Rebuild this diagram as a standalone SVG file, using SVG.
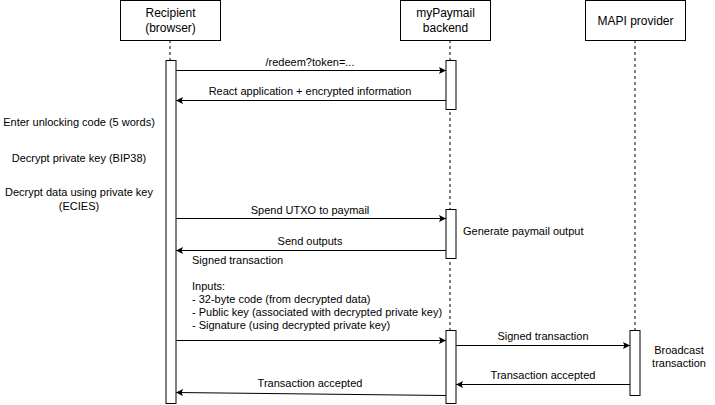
<svg xmlns="http://www.w3.org/2000/svg" width="715" height="405" viewBox="0 0 715 405">
<defs>
<marker id="arr" viewBox="0 0 10 10" refX="10" refY="5" markerWidth="7" markerHeight="7" markerUnits="userSpaceOnUse" orient="auto">
<path d="M0,0 L10,5 L0,10 L2,5 Z" fill="#000"/>
</marker>
<style>
text{font-family:"Liberation Sans",Arial,sans-serif;font-size:11px;fill:#000}
.h{font-size:12px}
.box{fill:#fff;stroke:#000;stroke-width:1}
.life{stroke:#000;stroke-dasharray:3,3;fill:none}
.msg{stroke:#000;fill:none;marker-end:url(#arr)}
.c{text-anchor:middle}
</style>
</defs>
<rect width="715" height="405" fill="#fff"/>
<g id="lifelines">
<line class="life" x1="170" y1="40" x2="170" y2="61"/>
<line class="life" x1="450" y1="40" x2="450" y2="331"/>
<line class="life" x1="635" y1="40" x2="635" y2="331"/>
</g>
<g id="recipient">
<rect class="box" x="120.5" y="0.5" width="100" height="40"/>
<text class="h c" x="170.5" y="17">Recipient</text>
<text class="h c" x="170.5" y="32">(browser)</text>
<rect class="box" x="166" y="60.5" width="10" height="343"/>
</g>
<g id="backend">
<rect class="box" x="400.5" y="0.5" width="90" height="40"/>
<text class="h c" x="445.5" y="17">myPaymail</text>
<text class="h c" x="445.5" y="32">backend</text>
<rect class="box" x="446" y="60.5" width="10" height="49"/>
<rect class="box" x="446" y="209.5" width="10" height="49"/>
<rect class="box" x="446" y="330.5" width="10" height="73"/>
</g>
<g id="mapi">
<rect class="box" x="585.5" y="0.5" width="100" height="40"/>
<text class="h c" x="635.5" y="25">MAPI provider</text>
<rect class="box" x="630" y="330.5" width="10" height="65"/>
</g>
<g id="connectors">
<line class="msg" x1="176" y1="70.5" x2="446" y2="70.5"/>
<line class="msg" x1="446" y1="100.5" x2="176" y2="100.5"/>
<line class="msg" x1="176" y1="218.5" x2="446" y2="218.5"/>
<line class="msg" x1="446" y1="250.5" x2="176" y2="250.5"/>
<line class="msg" x1="176" y1="340.5" x2="446" y2="340.5"/>
<line class="msg" x1="456" y1="345.5" x2="630" y2="345.5"/>
<line class="msg" x1="630" y1="384.5" x2="456" y2="384.5"/>
<line class="msg" x1="446" y1="395.5" x2="176" y2="392.5"/>
</g>
<g id="labels">
<text class="c" x="310" y="66">/redeem?token=...</text>
<text class="c" x="310" y="95">React application + encrypted information</text>
<text class="c" x="310" y="214">Spend UTXO to paymail</text>
<text class="c" x="310" y="245">Send outputs</text>
<text class="c" x="543" y="340">Signed transaction</text>
<text class="c" x="543" y="379">Transaction accepted</text>
<text class="c" x="310" y="387">Transaction accepted</text>
<text x="192" y="264">Signed transaction</text>
<text x="192" y="290">Inputs:</text>
<text x="192" y="303">- 32-byte code (from decrypted data)</text>
<text x="192" y="316">- Public key (associated with decrypted private key)</text>
<text x="192" y="329">- Signature (using decrypted private key)</text>
<text x="463" y="235">Generate paymail output</text>
<text class="c" x="679" y="354">Broadcast</text>
<text class="c" x="679" y="367">transaction</text>
<text class="c" x="79" y="126">Enter unlocking code (5 words)</text>
<text class="c" x="79" y="162">Decrypt private key (BIP38)</text>
<text class="c" x="79" y="196">Decrypt data using private key</text>
<text class="c" x="79" y="210">(ECIES)</text>
</g>
</svg>
